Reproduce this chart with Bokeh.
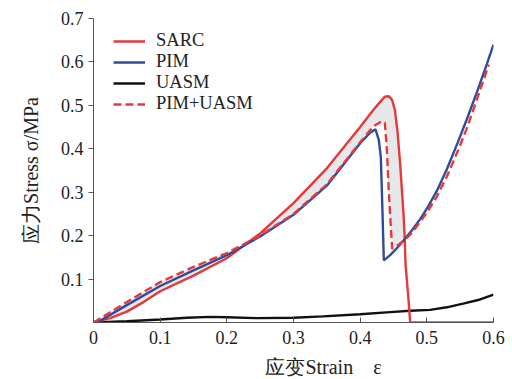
import numpy as np
from bokeh.plotting import figure
from bokeh.models import FixedTicker, Legend, LegendItem
from bokeh.embed import file_html
from bokeh.resources import INLINE

# ---- stress-strain readings (strain, stress in MPa) ----
sarc_strain = [0, 0.025, 0.05, 0.075, 0.1, 0.15, 0.2, 0.25, 0.3, 0.35, 0.4, 0.42,
               0.43, 0.437, 0.443, 0.448, 0.452, 0.456, 0.46, 0.465, 0.467, 0.468,
               0.471, 0.473, 0.475, 0.6]
sarc_stress = [0, 0.01, 0.025, 0.047, 0.072, 0.108, 0.148, 0.205, 0.275, 0.355, 0.45, 0.49,
               0.508, 0.52, 0.521, 0.512, 0.49, 0.44, 0.365, 0.25, 0.19, 0.136,
               0.08, 0.044, 0, 0]

pim_strain = [0, 0.01, 0.05, 0.1, 0.15, 0.2, 0.25, 0.3, 0.35, 0.4, 0.415, 0.423,
              0.428, 0.431, 0.433, 0.4355, 0.445, 0.455, 0.465, 0.478, 0.49, 0.5,
              0.515, 0.53, 0.546, 0.56, 0.575, 0.59, 0.6]
pim_stress = [0, 0.004, 0.04, 0.084, 0.12, 0.155, 0.198, 0.248, 0.315, 0.413, 0.437, 0.445,
              0.42, 0.38, 0.28, 0.143, 0.155, 0.171, 0.189, 0.213, 0.238, 0.262,
              0.303, 0.353, 0.413, 0.468, 0.53, 0.595, 0.64]

uasm_strain = [0, 0.05, 0.1, 0.14, 0.175, 0.2, 0.245, 0.3, 0.344, 0.4, 0.445, 0.475,
               0.505, 0.53, 0.556, 0.58, 0.6]
uasm_stress = [0, 0.003, 0.007, 0.011, 0.013, 0.012, 0.010, 0.011, 0.014, 0.019, 0.024, 0.027,
               0.029, 0.035, 0.044, 0.053, 0.064]

combo_strain = [0, 0.05, 0.1, 0.15, 0.2, 0.25, 0.3, 0.35, 0.4, 0.42, 0.433, 0.437,
                0.44, 0.443, 0.446, 0.448, 0.455, 0.467, 0.478, 0.49, 0.5, 0.515,
                0.53, 0.546, 0.56, 0.575, 0.593]
combo_stress = [0, 0.047, 0.093, 0.128, 0.16, 0.2, 0.25, 0.318, 0.415, 0.452, 0.464, 0.46,
                0.40, 0.30, 0.22, 0.17, 0.176, 0.19, 0.207, 0.232, 0.253, 0.29,
                0.336, 0.393, 0.447, 0.513, 0.594]

x_ticks = [0, 0.1, 0.2, 0.3, 0.4, 0.5, 0.6]
x_tick_labels = ["0", "0.1", "0.2", "0.3", "0.4", "0.5", "0.6"]
y_ticks = [0.1, 0.2, 0.3, 0.4, 0.5, 0.6, 0.7]

x_title = "应变Strain\u2003ε"
y_title = "应力Stress σ/MPa"

RED = "#e5383b"
BLUE = "#2f4b9c"
BLACK = "#111111"
FILL = "#e6e7e9"
SERIF = "Liberation Serif"
TEXT = "#222222"

# ---- figure geometry ----
L, R, T, B = 93, 19, 18, 57
FW, FH = 400, 304

p = figure(width=L + FW + R, height=T + FH + B, frame_width=FW, frame_height=FH,
           x_range=(0, 0.6), y_range=(0, 0.7),
           min_border_left=L, min_border_right=R, min_border_top=T, min_border_bottom=B,
           output_backend="svg", toolbar_location=None)
p.outline_line_color = None
p.grid.visible = False
p.background_fill_color = "white"
p.border_fill_color = "white"

# ---- shaded band between SARC and PIM+UASM up to where they meet ----
k = next(i for i, (a, b) in enumerate(zip(sarc_strain, sarc_stress)) if a == 0.467 and b == 0.19)
m = combo_strain.index(0.467)
band_x = list(sarc_strain[:k + 1]) + list(combo_strain[:m + 1])[::-1]
band_y = list(sarc_stress[:k + 1]) + list(combo_stress[:m + 1])[::-1]
p.patch(band_x, band_y, fill_color=FILL, line_color=None)

r_uasm = p.line(uasm_strain, uasm_stress, line_color=BLACK, line_width=2.4)
r_sarc = p.line(sarc_strain, sarc_stress, line_color=RED, line_width=2.4)
r_pim = p.line(pim_strain, pim_stress, line_color=BLUE, line_width=2.4)
r_combo = p.line(combo_strain, combo_stress, line_color=RED, line_width=2.4,
                 line_dash="8 4")

# ---- axes ----
xax = p.xaxis[0]
yax = p.yaxis[0]
for ax in (xax, yax):
    ax.axis_line_color = "#555555"
    ax.axis_line_width = 1
    ax.major_tick_line_color = "#555555"
    ax.minor_tick_line_color = None
    ax.major_label_text_font = SERIF
    ax.major_label_text_font_size = "18px"
    ax.major_label_text_color = TEXT
    ax.axis_label_text_font = SERIF
    ax.axis_label_text_font_size = "20px"
    ax.axis_label_text_font_style = "normal"
    ax.axis_label_text_color = TEXT

xax.ticker = FixedTicker(ticks=x_ticks)
xax.major_label_overrides = {t: s for t, s in zip(x_ticks, x_tick_labels)}
xax.major_tick_in = 5
xax.major_tick_out = 0
xax.major_label_standoff = 8
# leading em spaces push the centred title to the right
xax.axis_label = "\u2003" * 3 + x_title
xax.axis_label_standoff = 9

yax.ticker = FixedTicker(ticks=y_ticks)
yax.major_tick_in = 0
yax.major_tick_out = 5
yax.major_label_standoff = 5
yax.axis_label = y_title
yax.axis_label_standoff = 16

# ---- legend ----
legend = Legend(items=[LegendItem(label="SARC", renderers=[r_sarc]),
                       LegendItem(label="PIM", renderers=[r_pim]),
                       LegendItem(label="UASM", renderers=[r_uasm]),
                       LegendItem(label="PIM+UASM", renderers=[r_combo])],
                location=(20, 208), orientation="vertical",
                label_text_font=SERIF, label_text_font_size="18.5px",
                label_text_color=TEXT,
                glyph_width=32, glyph_height=20, label_height=20, spacing=0,
                label_standoff=11, padding=0, margin=0,
                border_line_color=None, background_fill_alpha=0)
p.add_layout(legend)

open("out.html", "w").write(file_html(p, INLINE))
